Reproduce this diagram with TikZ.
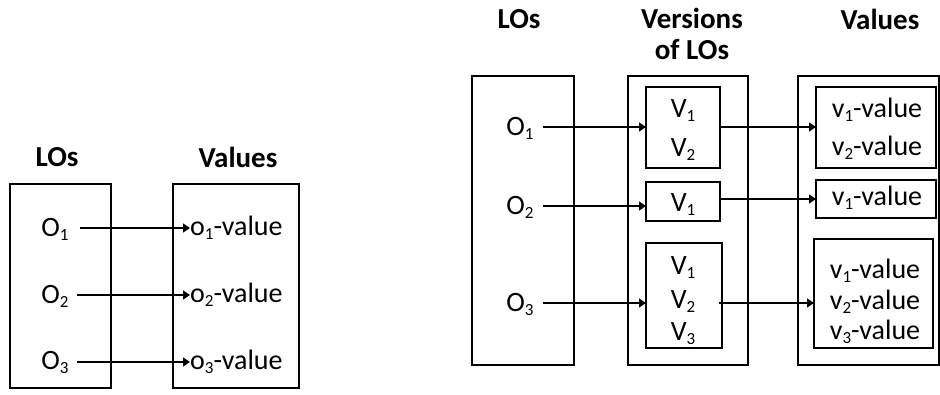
\documentclass[tikz,border=0pt]{standalone}
\usepackage{fontspec}
\setmainfont{Carlito}
\usetikzlibrary{arrows.meta,calc}
\newcommand{\subdig}[1]{{\fontsize{17}{17}\selectfont\raisebox{-4pt}{#1}}}
\begin{document}
\begin{tikzpicture}[x=1pt,y=-1pt,
  frame/.style={draw,line width=1.4pt},
  lbl/.style={inner sep=0pt,font=\fontsize{28}{30}\selectfont},
  hdr/.style={inner sep=0pt,font=\fontsize{29}{32}\selectfont\bfseries},
  arr/.style={line width=1.4pt,-{Triangle[length=7pt,width=9pt]}}]
\useasboundingbox (0,0) rectangle (940,394);
% ---------- left diagram ----------
\node[hdr] (hL1) at (57,157) {LOs};
\node[hdr] (hV1) at (238,157) {Values};
\draw[frame] (10,184) rectangle (111,388);
\draw[frame] (173,184) rectangle (299,388);
\node[lbl] (a1) at (55,229) {O\subdig{1}};
\node[lbl] (a2) at (55,296) {O\subdig{2}};
\node[lbl] (a3) at (55,362) {O\subdig{3}};
\node[lbl,anchor=west] (b1) at (190,228) {o\subdig{1}-value};
\node[lbl,anchor=west] (b2) at (190,295) {o\subdig{2}-value};
\node[lbl,anchor=west] (b3) at (190,362) {o\subdig{3}-value};
\coordinate (s1) at (80,228);
\coordinate (s2) at (77,295);
\coordinate (s3) at (77,362);
\draw[arr] (s1) -- (s1 -| b1.west);
\draw[arr] (s2) -- (s2 -| b2.west);
\draw[arr] (s3) -- (s3 -| b3.west);
% ---------- right diagram ----------
\node[hdr] (hL2) at (519,19) {LOs};
\node[hdr] (hVe) at (692,18) {Versions};
\node[hdr] (hVo) at (692,50) {of LOs};
\node[hdr] (hV2) at (880,19) {Values};
\draw[frame] (472,76) rectangle (574,365);
\draw[frame] (628,76) rectangle (748,365);
\draw[frame] (798,76) rectangle (939,365);
% version boxes
\draw[frame] (646,87) rectangle (720,168);
\coordinate (vb1w) at (646,127); \coordinate (vb1e) at (720,127);
\draw[frame] (646,182) rectangle (720,221);
\coordinate (vb2w) at (646,206); \coordinate (vb2e) at (720,199);
\draw[frame] (646,243) rectangle (722,348);
\coordinate (vb3w) at (646,303); \coordinate (vb3e) at (719,303);
% value boxes
\draw[frame] (816,87) rectangle (936,168);
\coordinate (wb1w) at (816,127);
\draw[frame] (816,180) rectangle (936,218);
\coordinate (wb2w) at (816,199);
\draw[frame] (814,239) rectangle (933,348);
\coordinate (wb3w) at (814,303);
% labels
\node[lbl] (c1) at (520,128) {O\subdig{1}};
\node[lbl] (c2) at (520,207) {O\subdig{2}};
\node[lbl] (c3) at (520,304) {O\subdig{3}};
\node[lbl] at (683,111) {V\subdig{1}};
\node[lbl] at (683,150) {V\subdig{2}};
\node[lbl] at (683,205) {V\subdig{1}};
\node[lbl] at (683,268) {V\subdig{1}};
\node[lbl] at (683,302) {V\subdig{2}};
\node[lbl] at (683,334) {V\subdig{3}};
\node[lbl] at (877,110) {v\subdig{1}-value};
\node[lbl] at (877,148) {v\subdig{2}-value};
\node[lbl] at (877,198) {v\subdig{1}-value};
\node[lbl] at (875,271) {v\subdig{1}-value};
\node[lbl] at (875,302) {v\subdig{2}-value};
\node[lbl] at (875,332) {v\subdig{3}-value};
% arrows
\coordinate (t1) at (543,127);
\coordinate (t2) at (543,206);
\coordinate (t3) at (543,303);
\draw[arr] (t1) -- (vb1w);
\draw[arr] (vb1e) -- (wb1w);
\draw[arr] (t2) -- (vb2w);
\draw[arr] (vb2e) -- (wb2w);
\draw[arr] (t3) -- (vb3w);
\draw[arr] (vb3e) -- (wb3w);
\end{tikzpicture}
\end{document}
